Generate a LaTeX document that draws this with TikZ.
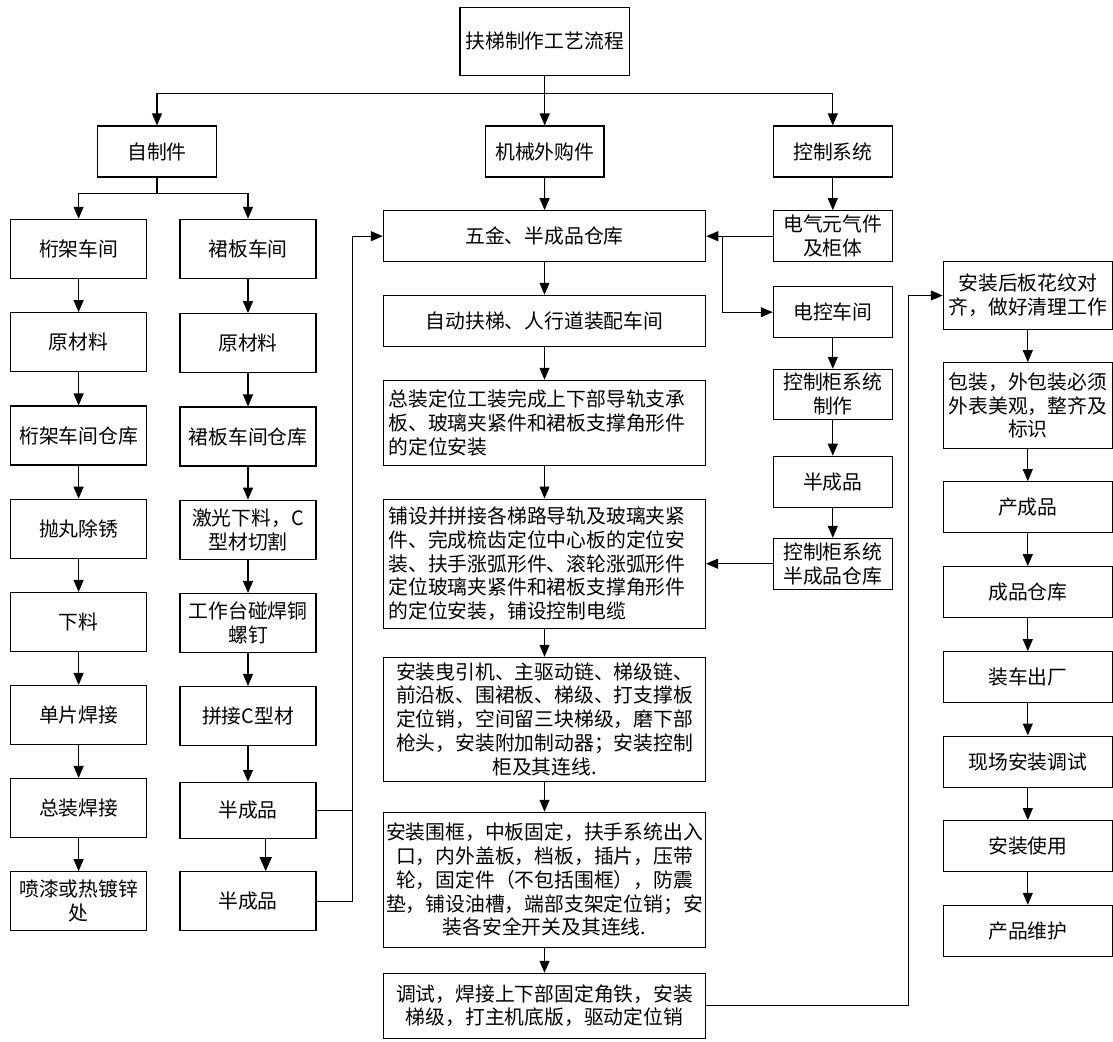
\documentclass[tikz,border=0pt]{standalone}
\usepackage{fontspec}
\setmainfont{Noto Sans CJK SC}
\usetikzlibrary{arrows.meta}
\begin{document}
\begin{tikzpicture}[x=1pt,y=-1pt,
  box/.style={draw, line width=1.1pt, inner sep=2pt, align=center,
    font=\fontsize{19.8}{23.8}\selectfont},
  leftbox/.style={box, align=left, text width=312pt, inner xsep=5pt},
  colL/.style={box, minimum width=136pt, minimum height=59pt},
  colM/.style={box, minimum width=322.4pt},
  colC/.style={box, minimum width=119pt},
  colF/.style={box, minimum width=169pt},
  ln/.style={line width=1.1pt},
  arr/.style={line width=1.1pt, -{Triangle[length=12pt,width=10pt]}},
  bigarr/.style={line width=1.5pt, -{Triangle[length=14pt,width=12pt]}},
]
\useasboundingbox (0,0) rectangle (1113,1041);

% top level
\node[box, minimum width=169.5pt, minimum height=68pt] (title) at (544.7,41.3) {扶梯制作工艺流程};
\node[box, minimum width=119pt, minimum height=51pt] (zzj) at (157,151.5) {自制件};
\node[box, minimum width=118.6pt, minimum height=51pt] (jxw) at (544.7,151.5) {机械外购件};
\node[box, minimum width=119pt, minimum height=51pt] (kzxt) at (832.8,151.5) {控制系统};

% truss workshop column
\node[colL] (hj1) at (78.6,248.8) {桁架车间};
\node[colL] (hj2) at (78.6,342.2) {原材料};
\node[colL] (hj3) at (78.6,435.5) {桁架车间仓库};
\node[colL] (hj4) at (78.6,528.7) {抛丸除锈};
\node[colL] (hj5) at (78.6,622) {下料};
\node[colL] (hj6) at (78.6,715) {单片焊接};
\node[colL] (hj7) at (78.6,808) {总装焊接};
\node[colL] (hj8) at (78.6,901.2) {喷漆或热镀锌\\处};

% skirt panel workshop column
\node[colL] (qb1) at (248,248.8) {裙板车间};
\node[colL] (qb2) at (248,343.2) {原材料};
\node[colL] (qb3) at (248,436.5) {裙板车间仓库};
\node[colL] (qb4) at (248,529.7) {激光下料，C\\型材切割};
\node[colL] (qb5) at (248,623) {工作台碰焊铜\\螺钉};
\node[colL] (qb6) at (248,716) {拼接C型材};
\node[colL, minimum height=56.4pt] (qb7) at (248,810.5) {半成品};
\node[colL] (qb8) at (248,901.2) {半成品};

% assembly column
\node[colM, minimum height=51pt] (wj) at (544.5,236.2) {五金、半成品仓库};
\node[colM, minimum height=50.7pt] (zd) at (544.5,320.7) {自动扶梯、人行道装配车间};
\node[leftbox, minimum height=84.7pt] (zp) at (544.5,422.7) {总装定位工装完成上下部导轨支承\\板、玻璃夹紧件和裙板支撑角形件\\的定位安装};
\node[leftbox, minimum height=129.3pt] (ps) at (544.5,563.7) {铺设并拼接各梯路导轨及玻璃夹紧\\件、完成梳齿定位中心板的定位安\\装、扶手涨弧形件、滚轮涨弧形件\\定位玻璃夹紧件和裙板支撑角形件\\的定位安装，铺设控制电缆};
\node[colM, minimum height=123.7pt] (az) at (544.5,719.2) {安装曳引机、主驱动链、梯级链、\\前沿板、围裙板、梯级、打支撑板\\定位销，空间留三块梯级，磨下部\\枪头，安装附加制动器；安装控制\\柜及其连线.};
\node[colM, minimum height=135pt, inner xsep=0pt] (aw) at (544.5,879.8) {安装围框，中板固定，扶手系统出入\\口，内外盖板，档板，插片，压带\\轮，固定件（不包括围框），防震\\垫，铺设油槽，端部支架定位销；安\\装各安全开关及其连线.};
\node[colM, minimum height=64.7pt] (ts) at (544.5,1005.7) {调试，焊接上下部固定角铁，安装\\梯级，打主机底版，驱动定位销};

% control column
\node[colC, minimum height=51pt] (dq) at (832.8,236.2) {电气元气件\\及柜体};
\node[colC, minimum height=51pt] (dk) at (832.8,312.2) {电控车间};
\node[colC, minimum height=50pt] (kzz) at (832.8,394.3) {控制柜系统\\制作};
\node[colC, minimum height=51pt] (bcp) at (832.8,481.7) {半成品};
\node[colC, minimum height=50.7pt] (kzc) at (832.8,563.7) {控制柜系统\\半成品仓库};

% finishing column
\node[colF, minimum height=67.6pt] (ah) at (1027.8,295.5) {安装后板花纹对\\齐，做好清理工作};
\node[colF, minimum height=85.6pt] (bz) at (1027.8,405.5) {包装，外包装必须\\外表美观，整齐及\\标识};
\node[colF, minimum height=51pt] (ccp) at (1027.8,507.2) {产成品};
\node[colF, minimum height=50.6pt] (cpck) at (1027.8,592) {成品仓库};
\node[colF, minimum height=50.6pt] (zc) at (1027.8,677) {装车出厂};
\node[colF, minimum height=51.3pt] (xc) at (1027.8,761.7) {现场安装调试};
\node[colF, minimum height=51pt] (as) at (1027.8,846.2) {安装使用};
\node[colF, minimum height=50.7pt] (cw) at (1027.8,930.7) {产品维护};

% top branching
\coordinate (tb) at (544.7,93.7);
\draw[arr] (title) -- (jxw);
\draw[arr] (tb) -| (zzj.north);
\draw[arr] (tb) -| (kzxt.north);

\coordinate (zb) at (157,193.7);
\draw[ln] (zzj.south) -- (zb);
\draw[arr] (zb) -| (hj1.north);
\draw[arr] (zb) -| (qb1.north);

% vertical chains
\foreach \a/\b in {hj1/hj2,hj2/hj3,hj3/hj4,hj4/hj5,hj5/hj6,hj6/hj7,hj7/hj8,
                   qb1/qb2,qb2/qb3,qb3/qb4,qb4/qb5,qb5/qb6,qb6/qb7,
                   jxw/wj,wj/zd,zd/zp,zp/ps,ps/az,az/aw,aw/ts,
                   kzxt/dq,dk/kzz,kzz/bcp,bcp/kzc,
                   ah/bz,bz/ccp,ccp/cpck,cpck/zc,zc/xc,xc/as,as/cw}
  \draw[arr] (\a) -- (\b);
\draw[bigarr] ([xshift=17.7pt]qb7.south) -- ([xshift=17.7pt]qb8.north);

% semi-finished parts back to the hardware store
\coordinate (rx) at (352.3,0);
\draw[ln] (qb7.east) -- (qb7.east -| rx);
\draw[arr] (qb8.east) -| (rx |- wj.west) -- (wj.west);

% electrical parts
\coordinate (cj) at (722.6,236.2);
\draw[arr] (dq.west) -- (wj.east);
\draw[arr] (cj) |- (dk.west);
\draw[arr] (kzc.west) -- (ps.east);

% commissioning to finishing
\coordinate (fx) at (908.5,0);
\draw[arr] (ts.east) -| (fx |- ah.west) -- (ah.west);
\end{tikzpicture}
\end{document}
